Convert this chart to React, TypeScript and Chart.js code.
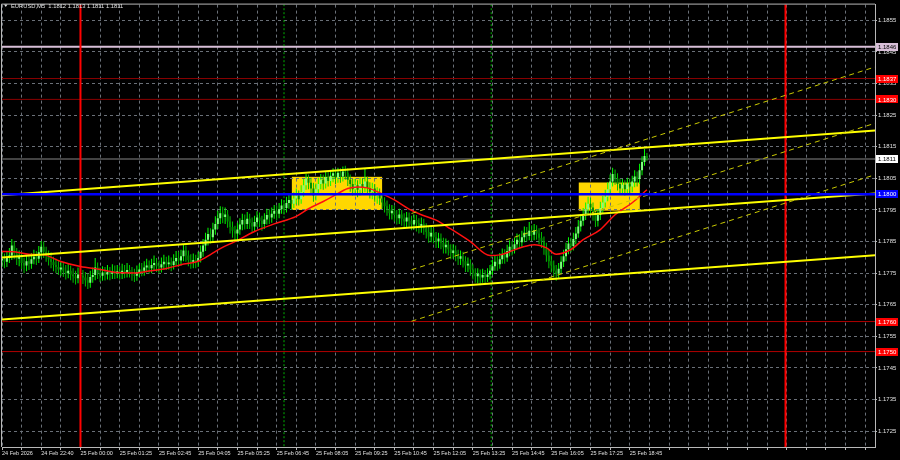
import React, { useEffect, useRef } from 'react';
import { Chart, registerables } from 'chart.js';

Chart.register(...registerables);

// ---------- data ----------
const symbolTitle = 'EURUSD,M5';
const lastQuote = ['1.1812', '1.1813', '1.1811', '1.1811'];

const timeLabels = [
  '24 Feb 2026', '24 Feb 22:40', '25 Feb 00:00', '25 Feb 01:25', '25 Feb 02:45', '25 Feb 04:05',
  '25 Feb 05:25', '25 Feb 06:45', '25 Feb 08:05', '25 Feb 09:25', '25 Feb 10:45', '25 Feb 12:05',
  '25 Feb 13:25', '25 Feb 14:45', '25 Feb 16:05', '25 Feb 17:25', '25 Feb 18:45',
];
const barsPerLabel = 16;
const barsPerGrid = 8;
const lastGridBar = 352;

const yTickValues = [
  1.1725, 1.1735, 1.1745, 1.1755, 1.1765, 1.1775, 1.1785,
  1.1795, 1.1805, 1.1815, 1.1825, 1.1835, 1.1845, 1.1855,
];

const firstOpen = 1.1779;
const closes = [
  1.17795, 1.17786, 1.17798, 1.17806, 1.17838, 1.17812, 1.17796, 1.17804, 1.17782, 1.17774,
  1.17788, 1.17780, 1.17794, 1.17802, 1.17796, 1.17816, 1.17834, 1.17818, 1.17806, 1.17794,
  1.17786, 1.17776, 1.17770, 1.17762, 1.17768, 1.17756, 1.17750, 1.17758, 1.17746, 1.17740,
  1.17734, 1.17746, 1.17742, 1.17736, 1.17728, 1.17720, 1.17738, 1.17744, 1.17768, 1.17750,
  1.17742, 1.17752, 1.17746, 1.17754, 1.17748, 1.17756, 1.17750, 1.17756, 1.17748, 1.17758,
  1.17752, 1.17760, 1.17754, 1.17746, 1.17742, 1.17754, 1.17762, 1.17758, 1.17768, 1.17774,
  1.17766, 1.17776, 1.17782, 1.17772, 1.17768, 1.17778, 1.17786, 1.17778, 1.17784, 1.17776,
  1.17788, 1.17798, 1.17790, 1.17804, 1.17822, 1.17806, 1.17792, 1.17784, 1.17792, 1.17786,
  1.17798, 1.17818, 1.17838, 1.17856, 1.17874, 1.17864, 1.17888, 1.17906, 1.17924, 1.17940,
  1.17928, 1.17936, 1.17914, 1.17896, 1.17884, 1.17876, 1.17888, 1.17904, 1.17918, 1.17906,
  1.17922, 1.17910, 1.17898, 1.17912, 1.17926, 1.17916, 1.17906, 1.17920, 1.17934, 1.17926,
  1.17938, 1.17948, 1.17938, 1.17952, 1.17964, 1.17956, 1.17972, 1.17982, 1.17970, 1.17986,
  1.17996, 1.17984, 1.18006, 1.18028, 1.18050, 1.18036, 1.18018, 1.17996, 1.18016, 1.18032,
  1.18046, 1.18034, 1.18054, 1.18042, 1.18058, 1.18066, 1.18052, 1.18068, 1.18056, 1.18072,
  1.18068, 1.18046, 1.18032, 1.18016, 1.18028, 1.18014, 1.18032, 1.18022, 1.18040, 1.18020,
  1.18008, 1.18018, 1.17996, 1.18002, 1.17986, 1.17974, 1.17962, 1.17952, 1.17940, 1.17948,
  1.17934, 1.17924, 1.17936, 1.17922, 1.17914, 1.17926, 1.17916, 1.17904, 1.17918, 1.17908,
  1.17896, 1.17906, 1.17892, 1.17880, 1.17866, 1.17878, 1.17864, 1.17850, 1.17860, 1.17846,
  1.17832, 1.17840, 1.17826, 1.17814, 1.17822, 1.17808, 1.17796, 1.17804, 1.17788, 1.17774,
  1.17780, 1.17762, 1.17750, 1.17740, 1.17748, 1.17736, 1.17744, 1.17738, 1.17746, 1.17758,
  1.17772, 1.17786, 1.17778, 1.17794, 1.17808, 1.17800, 1.17820, 1.17834, 1.17826, 1.17842,
  1.17856, 1.17848, 1.17864, 1.17878, 1.17868, 1.17884, 1.17872, 1.17886, 1.17876, 1.17862,
  1.17850, 1.17828, 1.17806, 1.17788, 1.17774, 1.17758, 1.17748, 1.17764, 1.17786, 1.17804,
  1.17826, 1.17844, 1.17836, 1.17858, 1.17876, 1.17898, 1.17916, 1.17934, 1.17952, 1.17970,
  1.17958, 1.17936, 1.17916, 1.17934, 1.17956, 1.17974, 1.17992, 1.18016, 1.18040, 1.18064,
  1.18050, 1.18032, 1.18018, 1.18030, 1.18016, 1.18034, 1.18024, 1.18040, 1.18056, 1.18048,
  1.18076, 1.18102, 1.18121, 1.18111,
];
const highs = [
  1.17818, 1.17812, 1.17820, 1.17830, 1.17858, 1.17852, 1.17830, 1.17822, 1.17818, 1.17800,
  1.17808, 1.17810, 1.17814, 1.17824, 1.17820, 1.17836, 1.17852, 1.17850, 1.17834, 1.17822,
  1.17816, 1.17802, 1.17796, 1.17790, 1.17786, 1.17784, 1.17776, 1.17780, 1.17774, 1.17766,
  1.17758, 1.17768, 1.17766, 1.17760, 1.17754, 1.17748, 1.17758, 1.17768, 1.17798, 1.17784,
  1.17768, 1.17772, 1.17770, 1.17776, 1.17770, 1.17778, 1.17774, 1.17776, 1.17772, 1.17780,
  1.17776, 1.17782, 1.17776, 1.17770, 1.17764, 1.17774, 1.17780, 1.17782, 1.17788, 1.17796,
  1.17790, 1.17796, 1.17806, 1.17798, 1.17790, 1.17800, 1.17808, 1.17802, 1.17806, 1.17800,
  1.17810, 1.17820, 1.17818, 1.17824, 1.17842, 1.17838, 1.17822, 1.17810, 1.17812, 1.17808,
  1.17818, 1.17838, 1.17858, 1.17878, 1.17894, 1.17892, 1.17910, 1.17930, 1.17948, 1.17962,
  1.17960, 1.17958, 1.17950, 1.17930, 1.17914, 1.17900, 1.17910, 1.17924, 1.17938, 1.17936,
  1.17944, 1.17938, 1.17926, 1.17932, 1.17946, 1.17942, 1.17932, 1.17940, 1.17954, 1.17952,
  1.17958, 1.17966, 1.17964, 1.17972, 1.17984, 1.17982, 1.17992, 1.18002, 1.17998, 1.18006,
  1.18018, 1.18012, 1.18028, 1.18048, 1.18064, 1.18062, 1.18052, 1.18036, 1.18034, 1.18052,
  1.18064, 1.18062, 1.18072, 1.18070, 1.18076, 1.18082, 1.18080, 1.18084, 1.18082, 1.18088,
  1.18090, 1.18082, 1.18062, 1.18048, 1.18048, 1.18044, 1.18052, 1.18050, 1.18080, 1.18056,
  1.18038, 1.18036, 1.18032, 1.18022, 1.18018, 1.18004, 1.17990, 1.17980, 1.17968, 1.17966,
  1.17964, 1.17950, 1.17954, 1.17950, 1.17940, 1.17944, 1.17942, 1.17932, 1.17936, 1.17934,
  1.17924, 1.17926, 1.17922, 1.17908, 1.17896, 1.17896, 1.17894, 1.17880, 1.17878, 1.17876,
  1.17862, 1.17860, 1.17854, 1.17842, 1.17842, 1.17838, 1.17824, 1.17822, 1.17818, 1.17804,
  1.17800, 1.17794, 1.17778, 1.17766, 1.17766, 1.17762, 1.17764, 1.17760, 1.17766, 1.17776,
  1.17792, 1.17806, 1.17804, 1.17814, 1.17828, 1.17826, 1.17840, 1.17854, 1.17852, 1.17862,
  1.17876, 1.17874, 1.17884, 1.17898, 1.17896, 1.17912, 1.17902, 1.17906, 1.17902, 1.17892,
  1.17880, 1.17866, 1.17846, 1.17824, 1.17806, 1.17790, 1.17776, 1.17782, 1.17804, 1.17824,
  1.17846, 1.17864, 1.17862, 1.17878, 1.17896, 1.17918, 1.17936, 1.17956, 1.17974, 1.17992,
  1.17988, 1.17974, 1.17952, 1.17952, 1.17976, 1.17994, 1.18014, 1.18038, 1.18062, 1.18084,
  1.18078, 1.18066, 1.18050, 1.18048, 1.18044, 1.18052, 1.18050, 1.18058, 1.18076, 1.18072,
  1.18096, 1.18120, 1.18143, 1.18130,
];
const lows = [
  1.17770, 1.17766, 1.17770, 1.17782, 1.17792, 1.17794, 1.17776, 1.17772, 1.17763, 1.17750,
  1.17756, 1.17760, 1.17764, 1.17778, 1.17776, 1.17782, 1.17800, 1.17798, 1.17786, 1.17774,
  1.17766, 1.17756, 1.17750, 1.17744, 1.17742, 1.17738, 1.17730, 1.17734, 1.17728, 1.17720,
  1.17714, 1.17718, 1.17724, 1.17716, 1.17708, 1.17700, 1.17704, 1.17720, 1.17728, 1.17732,
  1.17722, 1.17726, 1.17727, 1.17730, 1.17728, 1.17732, 1.17732, 1.17734, 1.17730, 1.17732,
  1.17734, 1.17736, 1.17736, 1.17726, 1.17722, 1.17726, 1.17738, 1.17740, 1.17742, 1.17752,
  1.17748, 1.17750, 1.17760, 1.17754, 1.17748, 1.17752, 1.17762, 1.17760, 1.17762, 1.17756,
  1.17762, 1.17774, 1.17770, 1.17774, 1.17788, 1.17786, 1.17772, 1.17764, 1.17766, 1.17766,
  1.17770, 1.17784, 1.17802, 1.17820, 1.17838, 1.17844, 1.17850, 1.17872, 1.17890, 1.17906,
  1.17908, 1.17906, 1.17894, 1.17876, 1.17862, 1.17854, 1.17858, 1.17872, 1.17886, 1.17888,
  1.17890, 1.17890, 1.17878, 1.17882, 1.17896, 1.17896, 1.17884, 1.17890, 1.17904, 1.17906,
  1.17910, 1.17922, 1.17918, 1.17924, 1.17938, 1.17936, 1.17942, 1.17954, 1.17950, 1.17956,
  1.17968, 1.17964, 1.17970, 1.17992, 1.18014, 1.18016, 1.17998, 1.17976, 1.17980, 1.17998,
  1.18016, 1.18014, 1.18018, 1.18024, 1.18026, 1.18038, 1.18032, 1.18036, 1.18036, 1.18040,
  1.18046, 1.18026, 1.18008, 1.17996, 1.17996, 1.17990, 1.17996, 1.18002, 1.18006, 1.18000,
  1.17986, 1.17984, 1.17976, 1.17970, 1.17966, 1.17954, 1.17942, 1.17932, 1.17920, 1.17920,
  1.17914, 1.17904, 1.17906, 1.17900, 1.17894, 1.17896, 1.17896, 1.17886, 1.17888, 1.17882,
  1.17876, 1.17878, 1.17872, 1.17860, 1.17846, 1.17848, 1.17844, 1.17830, 1.17830, 1.17826,
  1.17812, 1.17812, 1.17806, 1.17794, 1.17796, 1.17788, 1.17776, 1.17776, 1.17768, 1.17754,
  1.17754, 1.17742, 1.17730, 1.17720, 1.17718, 1.17712, 1.17720, 1.17718, 1.17722, 1.17730,
  1.17744, 1.17758, 1.17758, 1.17764, 1.17780, 1.17780, 1.17786, 1.17804, 1.17806, 1.17812,
  1.17826, 1.17828, 1.17834, 1.17848, 1.17850, 1.17854, 1.17852, 1.17854, 1.17856, 1.17842,
  1.17830, 1.17808, 1.17786, 1.17766, 1.17752, 1.17736, 1.17726, 1.17732, 1.17748, 1.17770,
  1.17788, 1.17810, 1.17816, 1.17822, 1.17842, 1.17862, 1.17882, 1.17900, 1.17918, 1.17936,
  1.17936, 1.17916, 1.17896, 1.17898, 1.17918, 1.17940, 1.17958, 1.17978, 1.18002, 1.18024,
  1.18030, 1.18012, 1.17998, 1.18000, 1.17996, 1.18000, 1.18004, 1.18006, 1.18022, 1.18024,
  1.18032, 1.18060, 1.18090, 1.18106,
];

// moving average (red), read at sampled bars
const maBars = [0, 5, 11, 17, 24, 32, 40, 47, 55, 60, 67, 73, 80, 85, 89, 95, 103, 111, 120, 125, 131, 136, 141, 145, 149, 155, 160, 166, 171, 177, 183, 191, 199, 203, 207, 212, 217, 222, 226, 232, 237, 244, 250, 257, 263];
const maValues = [
  1.17819, 1.17818, 1.17810, 1.17808, 1.17787, 1.17771, 1.17762, 1.17752, 1.17751, 1.17757,
  1.17765, 1.17777, 1.17788, 1.17809, 1.17828, 1.17850, 1.17882, 1.17906, 1.17930, 1.17954,
  1.17977, 1.17998, 1.18018, 1.18023, 1.18020, 1.18001, 1.17982, 1.17953, 1.17935, 1.17918,
  1.17890, 1.17850, 1.17806, 1.17808, 1.17818, 1.17832, 1.17840, 1.17830, 1.17810, 1.17825,
  1.17856, 1.17888, 1.17935, 1.17973, 1.18014,
];

// channel lines (solid yellow)
const channelBars = [-1, 357];
const trendUpper = [1.17996, 1.18202];
const trendMiddle = [1.17799, 1.18003];
const trendLower = [1.17603, 1.17807];
// steeper dashed channel
const dashedBars = [167, 357];
const dashedUpper = [1.17939, 1.18405];
const dashedMiddle = [1.17761, 1.18227];
const dashedLower = [1.17598, 1.18064];

// yellow zones
const zoneFrom = [118.2, 235.2];
const zoneTo = [155, 260.1];
const zoneHigh = [1.18055, 1.18037];
const zoneLow = [1.1795, 1.17948];

// vertical markers
const redVerticalBars = [32, 319.5];
const sessionBars = [115, 199.5];

// horizontal levels
const pinkLevel = 1.18467;
const upperRedLevels = [1.18366, 1.183];
const lowerRedLevels = [1.17597, 1.17502];
const bidLevel = 1.18111;
const blueLevel = 1.18;

const tagValues = [1.18467, 1.18366, 1.183, 1.18111, 1.18, 1.17597, 1.17502];
const tagTexts = ['1.1846', '1.1837', '1.1830', '1.1811', '1.1800', '1.1760', '1.1750'];

// ---------- styling ----------
const X_MIN = 0;
const X_MAX = 356;
const Y_MIN = 1.172;
const Y_MAX = 1.186;
const FONT = '"Liberation Sans", Arial, sans-serif';
const X_FONT_SIZE = 5.5;
const Y_FONT_SIZE = 6;
const TEXT = '#e0e0e0';
const GRID = '#6a7078';
const FRAME = '#b8b8b8';

const tagBg = ['#D8BFD8', '#FF0000', '#FF0000', '#FFFFFF', '#0000FF', '#FF0000', '#FF0000'];
const tagFg = ['#000000', '#FFFFFF', '#FFFFFF', '#000000', '#FFFFFF', '#FFFFFF', '#FFFFFF'];

const candles = closes.map((c, i) => {
  const o = i === 0 ? firstOpen : closes[i - 1];
  return { i, o, c, h: Math.max(highs[i], o, c), l: Math.min(lows[i], o, c) };
});

function hLine(price: number, color: string, width: number, order: number, dash: number[] = []) {
  return {
    type: 'line',
    data: [{ x: X_MIN - 5, y: price }, { x: X_MAX + 5, y: price }],
    borderColor: color,
    borderWidth: width,
    borderDash: dash,
    pointRadius: 0,
    fill: false,
    tension: 0,
    order,
  };
}
function vLine(bar: number, color: string, width: number, order: number, dash: number[] = []) {
  return {
    type: 'line',
    data: [{ x: bar, y: Y_MIN - 0.002 }, { x: bar, y: Y_MAX + 0.002 }],
    borderColor: color,
    borderWidth: width,
    borderDash: dash,
    pointRadius: 0,
    fill: false,
    tension: 0,
    order,
  };
}
function seg(bars: number[], vals: number[], color: string, width: number, order: number, dash: number[] = []) {
  return {
    type: 'line',
    data: bars.map((b, k) => ({ x: b, y: vals[k] })),
    borderColor: color,
    borderWidth: width,
    borderDash: dash,
    pointRadius: 0,
    fill: false,
    tension: 0,
    order,
  };
}

const overlayPlugin = {
  id: 'mtOverlay',
  beforeDraw(chart: any) {
    const { ctx, scales } = chart;
    const x = scales.x;
    const y = scales.y;
    ctx.save();
    ctx.fillStyle = '#000000';
    ctx.fillRect(0, 0, chart.width, chart.height);
    ctx.fillStyle = '#FFD700';
    for (let k = 0; k < zoneFrom.length; k++) {
      const x1 = x.getPixelForValue(zoneFrom[k]);
      const x2 = x.getPixelForValue(zoneTo[k]);
      const y1 = y.getPixelForValue(zoneHigh[k]);
      const y2 = y.getPixelForValue(zoneLow[k]);
      ctx.fillRect(x1, y1, x2 - x1, y2 - y1);
    }
    ctx.restore();
  },
  afterDraw(chart: any) {
    const { ctx, chartArea, scales } = chart;
    const y = scales.y;
    ctx.save();
    // frame left & top
    ctx.strokeStyle = FRAME;
    ctx.lineWidth = 1;
    ctx.beginPath();
    ctx.moveTo(chartArea.left - 0.5, chartArea.bottom);
    ctx.lineTo(chartArea.left - 0.5, chartArea.top - 0.5);
    ctx.lineTo(chartArea.right, chartArea.top - 0.5);
    ctx.stroke();
    // price tags
    ctx.font = `${Y_FONT_SIZE}px ${FONT}`;
    ctx.textBaseline = 'middle';
    ctx.textAlign = 'left';
    for (let k = 0; k < tagValues.length; k++) {
      const py = y.getPixelForValue(tagValues[k]);
      const bx = chartArea.right + 1;
      ctx.fillStyle = tagBg[k];
      ctx.fillRect(bx, Math.round(py) - 4, 22, 8);
      ctx.fillStyle = tagFg[k];
      ctx.fillText(tagTexts[k], bx + 2, py + 0.5);
    }
    // title
    ctx.font = `5.8px ${FONT}`;
    ctx.fillStyle = TEXT;
    ctx.beginPath();
    ctx.moveTo(4, 4.5);
    ctx.lineTo(7.5, 4.5);
    ctx.lineTo(5.75, 7);
    ctx.closePath();
    ctx.fill();
    ctx.fillText(`${symbolTitle}  ${lastQuote.join(' ')}`, 11, 6.5);
    ctx.restore();
  },
};

export default function App() {
  const ref = useRef<HTMLCanvasElement>(null);

  useEffect(() => {
    const canvas = ref.current;
    if (!canvas) return;

    const bullWick = '#00FF00';
    const bearWick = '#00C000';
    const bullBody = '#80FF80';
    const bearBody = '#008C00';

    const datasets: any[] = [
      // background levels
      hLine(pinkLevel, '#D8BFD8', 2, 40),
      ...upperRedLevels.map((p) => hLine(p, '#8B0000', 1, 40)),
      ...lowerRedLevels.map((p) => hLine(p, '#B00000', 1, 40)),
      hLine(bidLevel, '#5A5A5A', 1.5, 40),
      ...sessionBars.map((b) => vLine(b, '#00B000', 1, 39, [2, 2])),
      // candles
      {
        type: 'bar',
        data: candles.map((k) => ({ x: k.i, y: [k.l, k.h] })),
        backgroundColor: (ctx: any) => {
          const k = candles[ctx.dataIndex];
          return k && k.c >= k.o ? bullWick : bearWick;
        },
        barThickness: 1,
        grouped: false,
        borderWidth: 0,
        inflateAmount: 0,
        order: 31,
      },
      {
        type: 'bar',
        data: candles.map((k) => ({ x: k.i, y: [k.o, k.c] })),
        backgroundColor: (ctx: any) => {
          const k = candles[ctx.dataIndex];
          return k && k.c >= k.o ? bullBody : bearBody;
        },
        barThickness: 2,
        grouped: false,
        borderWidth: 0,
        inflateAmount: 0,
        minBarLength: 1,
        order: 30,
      },
      // overlays
      ...redVerticalBars.map((b) => vLine(b, '#FF0000', 2, 6)),
      {
        type: 'line',
        data: maBars.map((b, k) => ({ x: b, y: maValues[k] })),
        borderColor: '#FF1010',
        borderWidth: 1.5,
        pointRadius: 0,
        fill: false,
        tension: 0.4,
        cubicInterpolationMode: 'monotone',
        order: 5,
      },
      seg(channelBars, trendUpper, '#FFFF00', 2, 4),
      seg(channelBars, trendMiddle, '#FFFF00', 2, 4),
      seg(channelBars, trendLower, '#FFFF00', 2, 4),
      seg(dashedBars, dashedUpper, '#C8C800', 1, 3, [5, 4]),
      seg(dashedBars, dashedMiddle, '#C8C800', 1, 3, [5, 4]),
      seg(dashedBars, dashedLower, '#C8C800', 1, 3, [5, 4]),
      hLine(blueLevel, '#0000FF', 2.5, 1),
    ];

    const xTicks: number[] = [];
    for (let b = 0; b <= lastGridBar; b += barsPerGrid) xTicks.push(b);

    const chart = new Chart(canvas, {
      type: 'line',
      data: { datasets },
      options: {
        responsive: false,
        maintainAspectRatio: false,
        animation: false,
        devicePixelRatio: 1,
        events: [],
        layout: { padding: { left: 2, top: 2, right: 0, bottom: 0 } },
        plugins: { legend: { display: false }, tooltip: { enabled: false } },
        scales: {
          x: {
            type: 'linear',
            min: X_MIN,
            max: X_MAX,
            offset: false,
            afterBuildTicks: (s: any) => {
              s.ticks = xTicks.map((v) => ({ value: v }));
            },
            afterFit: (s: any) => {
              s.height = 13;
            },
            grid: {
              color: GRID,
              lineWidth: 1,
              offset: false,
              drawTicks: true,
              tickLength: 3,
              tickColor: FRAME,
            },
            border: { display: true, color: FRAME, width: 1, dash: [3, 3] },
            ticks: {
              color: TEXT,
              font: { family: FONT, size: X_FONT_SIZE },
              padding: 0,
              maxRotation: 0,
              minRotation: 0,
              autoSkip: false,
              align: 'start',
              callback: (v: any) => {
                const k = Number(v) / barsPerLabel;
                return Number.isInteger(k) && k < timeLabels.length ? timeLabels[k] : '';
              },
            },
          },
          y: {
            type: 'linear',
            position: 'right',
            min: Y_MIN,
            max: Y_MAX,
            afterBuildTicks: (s: any) => {
              s.ticks = yTickValues.map((v) => ({ value: v }));
            },
            afterFit: (s: any) => {
              s.width = 25;
            },
            grid: {
              color: GRID,
              lineWidth: 1,
              drawTicks: true,
              tickLength: 2,
              tickColor: FRAME,
            },
            border: { display: true, color: FRAME, width: 1, dash: [3, 3] },
            ticks: {
              color: TEXT,
              font: { family: FONT, size: Y_FONT_SIZE },
              padding: 1,
              autoSkip: false,
              callback: (v: any) => Number(v).toFixed(4),
            },
          },
        },
      } as any,
      plugins: [overlayPlugin],
    } as any);

    return () => chart.destroy();
  }, []);

  return (
    <div style={{ position: 'fixed', left: 0, top: 0, width: 900, height: 460, background: '#000' }}>
      <canvas ref={ref} width={900} height={460} style={{ display: 'block', width: 900, height: 460 }} />
    </div>
  );
}
